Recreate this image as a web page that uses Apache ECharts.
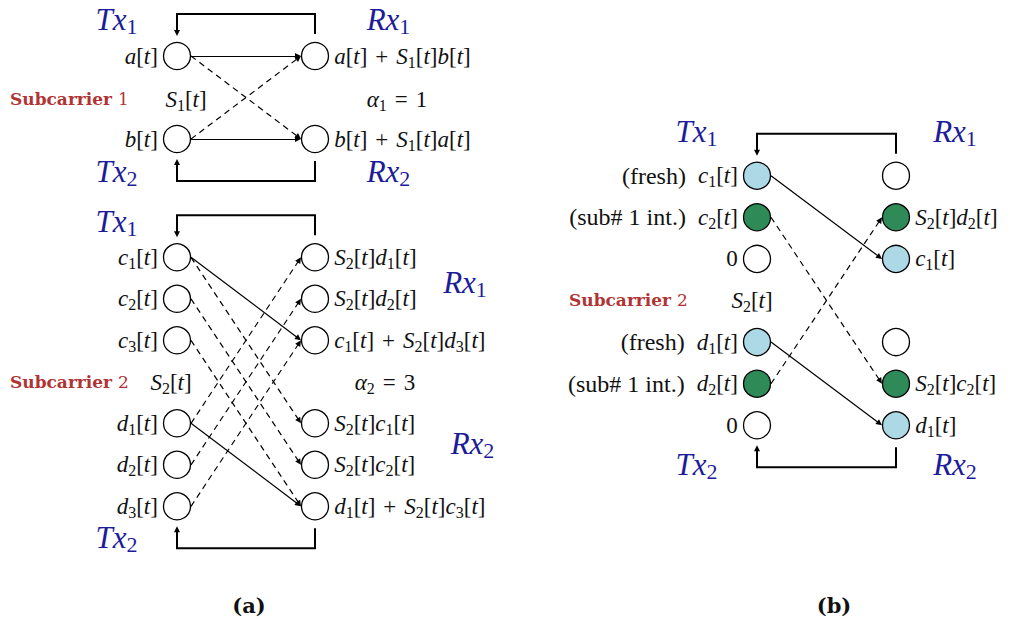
<!DOCTYPE html>
<html>
<head>
<meta charset="utf-8">
<script src="https://cdn.jsdelivr.net/npm/echarts@6/dist/echarts.min.js"></script>
<style>
  html, body { margin: 0; padding: 0; background: #fff; }
  #chart { width: 1010px; height: 622px; }
</style>
</head>
<body>
<div id="chart"></div>
<script>
// ---------- diagram content ----------
// Subcarrier 1, alpha_1 = 1 (panel a, top)
const sc1TxLabels = ['a[t]', 'b[t]'];
const sc1RxLabels = ['a[t] + S_1[t]b[t]', 'b[t] + S_1[t]a[t]'];
const sc1Rows = [0, 2];
const sc1Solid = [[0, 0], [1, 1]];
const sc1Dashed = [[0, 1], [1, 0]];

// Subcarrier 2, alpha_2 = 3 (panel a, bottom)
const sc2TxLabels = ['c_1[t]', 'c_2[t]', 'c_3[t]', 'd_1[t]', 'd_2[t]', 'd_3[t]'];
const sc2RxLabels = ['S_2[t]d_1[t]', 'S_2[t]d_2[t]', 'c_1[t] + S_2[t]d_3[t]',
                     'S_2[t]c_1[t]', 'S_2[t]c_2[t]', 'd_1[t] + S_2[t]c_3[t]'];
const sc2Rows = [0, 1, 2, 4, 5, 6];
const sc2Solid = [[0, 2], [3, 5]];
const sc2Dashed = [[0, 3], [1, 4], [2, 5], [3, 0], [4, 1], [5, 2]];

// Subcarrier 2 with fresh / interference symbols (panel b)
const sbTxNotes = ['(fresh)', '(sub# 1 int.)', '', '(fresh)', '(sub# 1 int.)', ''];
const sbTxLabels = ['c_1[t]', 'c_2[t]', '0', 'd_1[t]', 'd_2[t]', '0'];
const sbTxKinds = ['fresh', 'int', 'idle', 'fresh', 'int', 'idle'];
const sbRxLabels = ['', 'S_2[t]d_2[t]', 'c_1[t]', '', 'S_2[t]c_2[t]', 'd_1[t]'];
const sbRxKinds = ['idle', 'int', 'fresh', 'idle', 'int', 'fresh'];
const sbRows = [0, 1, 2, 4, 5, 6];
const sbSolid = [[0, 2], [3, 5]];
const sbDashed = [[1, 4], [4, 1]];

const terminalNames = ['Tx_1', 'Rx_1', 'Tx_2', 'Rx_2'];
const gainLabels = ['S_1[t]', 'S_2[t]', 'S_2[t]'];
const alphaLabels = ['α_1 = 1', 'α_2 = 3'];
const subcarrierIds = ['1', '2', '2'];
const panelTags = ['(a)', '(b)'];

// ---------- layout ----------
const R = 14;            // node radius
const ARROW = 6;         // arrow head length
const LOOP_OFF = 42;     // feedback wire distance from outer node centre
const RX_GAP = 8;        // gap between receiver node and feedback wire
const TIP_GAP = 6;       // gap between arrow tip and transmitter node
const blocks = {
  sc1: { txX: 177, rxX: 315, y0: 56, dy: 41.5 },
  sc2: { txX: 177, rxX: 315, y0: 257.3, dy: 41.5 },
  sb:  { txX: 757, rxX: 896, y0: 175.7, dy: 41.6 }
};
const terminalPos = {
  sc1: [[116.5, 19], [388.5, 19], [116.5, 171], [388.5, 171]],
  sc2: [[116.5, 221], [465, 282], [116.5, 537], [472.5, 443]],
  sb:  [[696.5, 131], [955, 131], [696.5, 464], [955, 464]]
};
const gainPos = [[186, 99], [171, 382], [752, 300]];
const alphaPos = [[397, 99], [385, 382]];
const subcarrierPos = [[10, 99], [10, 382], [569, 300]];
const tagPos = [[249, 605], [834, 605]];

const INK = '#111';
const BLUE = '#1c1c9a';
const RED = '#b03434';
const FILL = { fresh: '#add8e6', int: '#2e8b57', idle: '#ffffff' };
const MATH = 23, BIG = 31, NOTE = 24;
const SERIF = 'Liberation Serif';

// ---------- text helpers ----------
function mathStyles(p, size, color) {
  const lh = Math.round(size * 1.2);
  const sub = Math.round(size * 0.7);
  const base = { fontFamily: SERIF, fontSize: size, color: color, lineHeight: lh, verticalAlign: 'middle' };
  const s = {};
  s[p + 'i'] = Object.assign({}, base, { fontStyle: 'italic' });
  s[p + 'r'] = Object.assign({}, base);
  s[p + 'o'] = Object.assign({}, base, { padding: [0, Math.round(size * 0.36), 0, Math.round(size * 0.36)] });
  s[p + 's'] = { fontFamily: SERIF, fontSize: sub, color: color, lineHeight: sub, verticalAlign: 'bottom' };
  s[p + 'n'] = Object.assign({}, base, { fontSize: NOTE, padding: [0, 12, 0, 0] });
  return s;
}
// turn a small TeX-like string (x_1, brackets, +, =) into rich text tokens
function tex(str, p) {
  const s = str.replace(/\s+/g, '');
  let out = '', buf = '', cur = null;
  const flush = () => { if (buf) out += '{' + p + cur + '|' + buf + '}'; buf = ''; };
  for (let i = 0; i < s.length; i++) {
    let ch = s[i], st;
    if (ch === '_') { ch = s[++i]; st = 's'; }
    else if (/[A-Za-zα]/.test(ch)) st = 'i';
    else if (ch === '+' || ch === '=') st = 'o';
    else st = 'r';
    if (st !== cur || st === 'o') { flush(); cur = st; }
    buf += ch;
  }
  flush();
  return out;
}

const richAll = Object.assign({},
  mathStyles('m', MATH, INK),
  mathStyles('T', BIG, BLUE),
  {
    sb: { fontFamily: 'DejaVu Serif', fontWeight: 'bold', fontSize: 17, color: RED, lineHeight: 22 },
    sn: { fontFamily: 'DejaVu Serif', fontSize: 17, color: RED, lineHeight: 22, padding: [0, 0, 0, 6] },
    tag: { fontFamily: 'DejaVu Serif', fontWeight: 'bold', fontSize: 21, color: INK, lineHeight: 26 }
  });

// ---------- series builders ----------
const rowY = (b, r) => b.y0 + r * b.dy;
const series = [];

function nodeSeries(b, rows, x, labels, kinds, notes, side) {
  return {
    type: 'scatter', silent: true, z: 5,
    symbol: 'circle', symbolSize: 2 * R - 1,
    itemStyle: { borderColor: '#000', borderWidth: 1.3, opacity: 1 },
    label: {
      show: true, position: side, distance: 5,
      formatter: p => p.data.text, rich: richAll
    },
    data: rows.map((r, i) => ({
      value: [x, rowY(b, r)],
      text: (notes && notes[i] ? '{mn|' + notes[i] + '}' : '') + (labels[i] ? tex(labels[i], 'm') : ''),
      itemStyle: { color: FILL[kinds ? kinds[i] : 'idle'] }
    }))
  };
}

function edge(b, rows, i, j) {
  const x1 = b.txX + R, y1 = rowY(b, rows[i]);
  const x2 = b.rxX - R, y2 = rowY(b, rows[j]);
  const len = Math.hypot(x2 - x1, y2 - y1);
  const k = (len - ARROW / 2) / len;
  return { coords: [[x1, y1], [x1 + (x2 - x1) * k, y1 + (y2 - y1) * k]] };
}

function edgeSeries(b, rows, pairs, dashed) {
  return {
    type: 'lines', coordinateSystem: 'cartesian2d', silent: true, z: 3,
    symbol: ['none', 'triangle'], symbolSize: ARROW,
    lineStyle: { color: '#000', width: 1.2, opacity: 1, type: dashed ? [6, 4.5] : 'solid' },
    data: pairs.map(([i, j]) => edge(b, rows, i, j))
  };
}

function feedback(b, rows) {
  const yTop = rowY(b, rows[0]);
  const yBot = rowY(b, rows[rows.length - 1]);
  const topWire = yTop - LOOP_OFF, botWire = yBot + LOOP_OFF;
  const topTip = yTop - R - TIP_GAP, botTip = yBot + R + TIP_GAP;
  const topEnd = topTip - ARROW / 2, botEnd = botTip + ARROW / 2;
  series.push({
    type: 'lines', coordinateSystem: 'cartesian2d', polyline: true, silent: true, z: 3,
    lineStyle: { color: '#000', width: 2, opacity: 1, join: 'miter' },
    data: [
      { coords: [[b.rxX, yTop - R - RX_GAP], [b.rxX, topWire], [b.txX, topWire], [b.txX, topEnd]] },
      { coords: [[b.rxX, yBot + R + RX_GAP], [b.rxX, botWire], [b.txX, botWire], [b.txX, botEnd]] }
    ]
  });
  series.push({
    type: 'lines', coordinateSystem: 'cartesian2d', silent: true, z: 3,
    symbol: ['none', 'triangle'], symbolSize: ARROW,
    lineStyle: { color: '#000', width: 2, opacity: 1 },
    data: [
      { coords: [[b.txX, topWire + 2], [b.txX, topEnd]] },
      { coords: [[b.txX, botWire - 2], [b.txX, botEnd]] }
    ]
  });
}

// free-standing annotations anchored at a point of the plane
function textSeries(items) {
  return {
    type: 'scatter', silent: true, z: 6, symbolSize: 1,
    itemStyle: { color: 'rgba(255,255,255,0)', opacity: 1 },
    label: {
      show: true, position: 'inside', formatter: p => p.data.text, rich: richAll,
      verticalAlign: 'middle', opacity: 1
    },
    data: items.map(it => ({ value: it.pos, text: it.text, label: { align: it.align || 'center' } }))
  };
}

function addBlock(key, txLabels, rxLabels, rows, solid, dashed, txKinds, rxKinds, txNotes) {
  const b = blocks[key];
  feedback(b, rows);
  series.push(edgeSeries(b, rows, solid, false));
  series.push(edgeSeries(b, rows, dashed, true));
  series.push(nodeSeries(b, rows, b.txX, txLabels, txKinds, txNotes, 'left'));
  series.push(nodeSeries(b, rows, b.rxX, rxLabels, rxKinds, null, 'right'));
  series.push(textSeries(terminalNames.map((n, i) => ({ pos: terminalPos[key][i], text: tex(n, 'T') }))));
}

addBlock('sc1', sc1TxLabels, sc1RxLabels, sc1Rows, sc1Solid, sc1Dashed);
addBlock('sc2', sc2TxLabels, sc2RxLabels, sc2Rows, sc2Solid, sc2Dashed);
addBlock('sb', sbTxLabels, sbRxLabels, sbRows, sbSolid, sbDashed, sbTxKinds, sbRxKinds, sbTxNotes);

const notes = [];
gainLabels.forEach((g, i) => notes.push({ pos: gainPos[i], text: tex(g, 'm') }));
alphaLabels.forEach((a, i) => notes.push({ pos: alphaPos[i], text: tex(a, 'm') }));
subcarrierIds.forEach((n, i) => notes.push({ pos: subcarrierPos[i], text: '{sb|Subcarrier}{sn|' + n + '}', align: 'left' }));
panelTags.forEach((t, i) => notes.push({ pos: tagPos[i], text: '{tag|' + t + '}' }));
series.push(textSeries(notes));

const chart = echarts.init(document.getElementById('chart'), null, { renderer: 'svg', width: 1010, height: 622 });
chart.setOption({
  animation: false,
  backgroundColor: '#ffffff',
  grid: { left: 0, right: 0, top: 0, bottom: 0 },
  xAxis: { type: 'value', min: 0, max: 1010, show: false },
  yAxis: { type: 'value', min: 0, max: 622, inverse: true, show: false },
  series: series
});
</script>
</body>
</html>
